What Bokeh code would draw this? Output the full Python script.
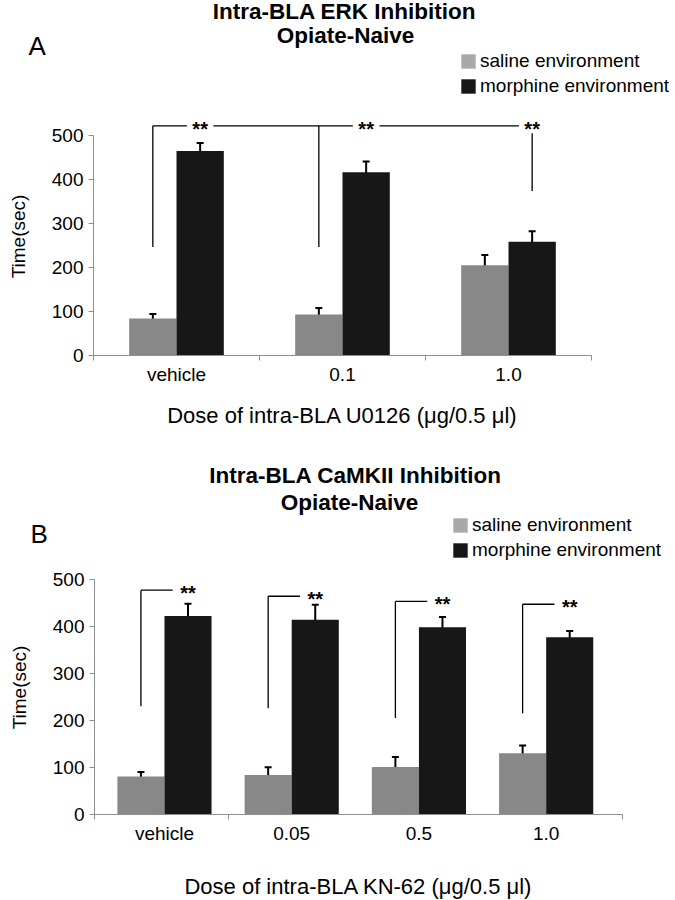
from bokeh.plotting import figure
from bokeh.models import (Range1d, FixedTicker, Label, Legend, LegendItem,
                          Whisker, TeeHead, ColumnDataSource)
from bokeh.layouts import column
from bokeh.embed import file_html
from bokeh.resources import INLINE
from bokeh.core.properties import value

FONT = "Liberation Sans"

# ---------------- data: panel A (ERK inhibition, U0126)
a_doses = ["vehicle", "0.1", "1.0"]
a_saline = [84, 93, 205]
a_saline_err = [10, 15, 23]
a_morphine = [464, 416, 258]
a_morphine_err = [18, 24, 24]
a_bracket_top = 521
a_bracket_bottoms = [246, 246, 373]
a_right_top = 504

# ---------------- data: panel B (CaMKII inhibition, KN-62)
b_doses = ["vehicle", "0.05", "0.5", "1.0"]
b_saline = [81, 84, 101, 130]
b_saline_err = [9.5, 16.5, 21.5, 16.5]
b_morphine = [422, 414, 398, 377]
b_morphine_err = [26, 32, 22, 13]
b_bracket_tops = [477, 464, 453, 447]
b_bracket_bottoms = [230, 226, 205, 215]

y_ticks = [0, 100, 200, 300, 400, 500]
series = ["saline environment", "morphine environment"]
sig_text = "**"

SAL = "#888888"
MOR = "#171717"
SAL_LEG = "#a9a9a9"
AX = "#8f8f8f"
W = 675


def header(height, title1, title2, t1xy, t2xy, letter, letter_xy, legend_loc):
    h = figure(width=W, height=height, x_range=Range1d(0, W), y_range=Range1d(0, height),
               min_border_left=0, min_border_right=0, min_border_top=0,
               min_border_bottom=0, x_axis_location=None, y_axis_location=None,
               title=None, output_backend="svg", toolbar_location=None,
               frame_align=False)
    h.outline_line_color = None
    h.grid.visible = False
    h.background_fill_color = "white"
    h.border_fill_color = "white"
    for t, (x, y) in ((title1, t1xy), (title2, t2xy)):
        h.add_layout(Label(x=x, y=y, x_units="screen", y_units="screen", text=t,
                           text_align="center", text_baseline="middle",
                           text_font=FONT, text_font_size="22.5px",
                           text_font_style="bold", text_color="black"))
    h.add_layout(Label(x=letter_xy[0], y=letter_xy[1], x_units="screen",
                       y_units="screen", text=letter, text_align="left",
                       text_baseline="middle", text_font=FONT,
                       text_font_size="26px", text_color="black"))
    # legend-only renderers (zero-height bars)
    r1 = h.vbar(x=[0], top=[0], bottom=[0], width=0, fill_color=SAL_LEG, line_color=None)
    r2 = h.vbar(x=[0], top=[0], bottom=[0], width=0, fill_color=MOR, line_color=None)
    leg = Legend(items=[LegendItem(label=series[0], renderers=[r1]),
                        LegendItem(label=series[1], renderers=[r2])],
                 location=legend_loc, glyph_width=18, glyph_height=18,
                 label_standoff=3, label_height=21, spacing=3, padding=0,
                 margin=0, border_line_color=None, background_fill_alpha=0,
                 label_text_font=FONT, label_text_font_size="19px",
                 label_text_color="black")
    h.add_layout(leg)
    return h


def base_figure(x_range, frame_w, frame_h, left, bottom, doses, minor_ticks,
                xlabel, label_standoff_x):
    p = figure(frame_width=frame_w, frame_height=frame_h,
               x_range=Range1d(*x_range), y_range=Range1d(0, 540),
               min_border_left=left, min_border_right=W - left - frame_w,
               min_border_top=0, min_border_bottom=bottom, title=None,
               output_backend="svg", toolbar_location=None, frame_align=False)
    p.outline_line_color = None
    p.grid.visible = False
    p.background_fill_color = "white"
    p.border_fill_color = "white"

    centers = [i + 0.5 for i in range(len(doses))]
    xa = p.xaxis[0]
    xa.ticker = FixedTicker(ticks=centers, minor_ticks=minor_ticks)
    xa.major_label_overrides = {c: d for c, d in zip(centers, doses)}
    xa.major_tick_out = 0
    xa.major_tick_in = 0
    xa.minor_tick_out = 5
    xa.minor_tick_in = 0
    xa.minor_tick_line_color = AX
    xa.axis_line_color = AX
    xa.major_label_standoff = 3
    xa.major_label_text_font = FONT
    xa.major_label_text_font_size = "19px"
    xa.major_label_text_color = "black"
    xa.axis_label = xlabel
    xa.axis_label_text_font = FONT
    xa.axis_label_text_font_size = "22px"
    xa.axis_label_text_font_style = "normal"
    xa.axis_label_text_color = "black"
    xa.axis_label_standoff = label_standoff_x

    ya = p.yaxis[0]
    ya.ticker = FixedTicker(ticks=y_ticks, minor_ticks=[])
    ya.bounds = (0, 500)
    ya.axis_line_color = AX
    ya.major_tick_line_color = AX
    ya.major_tick_out = 5
    ya.major_tick_in = 0
    ya.minor_tick_line_color = None
    ya.major_label_standoff = 5
    ya.major_label_text_font = FONT
    ya.major_label_text_font_size = "19px"
    ya.major_label_text_color = "black"
    ya.axis_label = "Time(sec)"
    ya.axis_label_text_font = FONT
    ya.axis_label_text_font_size = "19px"
    ya.axis_label_text_font_style = "normal"
    ya.axis_label_text_color = "black"
    ya.axis_label_standoff = 20
    return p


def add_bars(p, sal, sal_err, mor, mor_err, bw):
    n = len(sal)
    xs_s = [i + 0.5 - bw / 2 for i in range(n)]
    xs_m = [i + 0.5 + bw / 2 for i in range(n)]
    p.vbar(x=xs_s, top=sal, width=bw, fill_color=SAL, line_color=None)
    p.vbar(x=xs_m, top=mor, width=bw, fill_color=MOR, line_color=None)
    for xs, v, e in ((xs_s, sal, sal_err), (xs_m, mor, mor_err)):
        src = ColumnDataSource(dict(x=xs,
                                    upper=[a + b for a, b in zip(v, e)],
                                    lower=[a - b for a, b in zip(v, e)]))
        p.add_layout(Whisker(source=src, base="x", upper="upper", lower="lower",
                             line_width=2, line_color="black",
                             upper_head=TeeHead(size=7, line_width=2, line_color="black"),
                             lower_head=TeeHead(size=7, line_width=2, line_color="black")))
    return xs_s, xs_m


def add_stars(p, xs, ys):
    p.text(x=xs, y=ys, text=[sig_text] * len(xs), text_align="center",
           text_baseline="middle", text_font=value(FONT), text_font_size="20px",
           text_font_style="bold", text_color="black", y_offset=3)


# ---------------- panel A
hA = header(117, "Intra-BLA ERK Inhibition", "Opiate-Naive", (344, 106), (345, 82),
            "A", (28, 72), (459, 20))
pA = base_figure((0, 3), 498, 238, 93, 85, a_doses, [0, 1, 2, 3],
                 "Dose of intra-BLA U0126 (\u03bcg/0.5 \u03bcl)", 15)
sA, mA = add_bars(pA, a_saline, a_saline_err, a_morphine, a_morphine_err, 0.285)
g = 0.08
ax0 = [sA[0], mA[0] + g, mA[1] + g, sA[0], sA[1], mA[2]]
ax1 = [mA[0] - g, mA[1] - g, mA[2] - g, sA[0], sA[1], mA[2]]
ay0 = [a_bracket_top] * 3 + a_bracket_bottoms
ay1 = [a_bracket_top] * 3 + [a_bracket_top, a_bracket_top, a_right_top]
pA.segment(x0=ax0, y0=ay0, x1=ax1, y1=ay1, line_color="black", line_width=1.3)
add_stars(pA, mA, [a_bracket_top] * 3)

# ---------------- panel B
hB = header(120, "Intra-BLA CaMKII Inhibition", "Opiate-Naive", (355, 85), (349, 58),
            "B", (30, 27), (451, -1))
pB = base_figure((-0.05, 4.1), 528, 254, 94, 86, b_doses, [-0.05, 1, 4.1],
                 "Dose of intra-BLA KN-62 (\u03bcg/0.5 \u03bcl)", 27)
sB, mB = add_bars(pB, b_saline, b_saline_err, b_morphine, b_morphine_err, 0.37)
gb = 0.12
bx0 = sB + sB
bx1 = [m - gb for m in mB] + sB
by0 = b_bracket_tops + b_bracket_bottoms
by1 = b_bracket_tops + b_bracket_tops
pB.segment(x0=bx0, y0=by0, x1=bx1, y1=by1, line_color="black", line_width=1.3)
add_stars(pB, mB, b_bracket_tops)

layout = column(hA, pA, hB, pB, spacing=0)
open("out.html", "w").write(file_html(layout, INLINE))
